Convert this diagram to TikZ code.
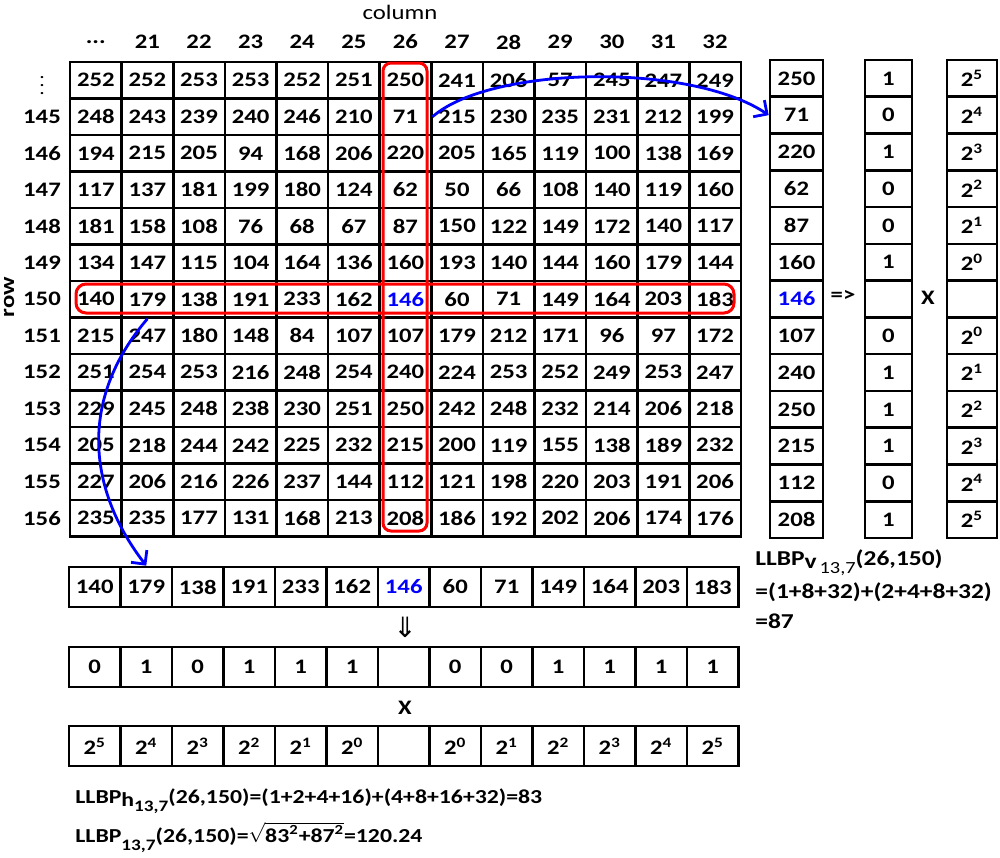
\documentclass[tikz,border=0pt]{standalone}
\usepackage{fontspec}
\setmainfont{Carlito}[FakeStretch=1.2]
\newfontfamily\djv{DejaVu Sans}
\usetikzlibrary{arrows.meta}
\newcommand\bl[1]{\textcolor{blue}{#1}}
\newcommand\pw[1]{2\textsuperscript{#1}}
\newcommand\threedots{...}
\begin{document}
\begin{tikzpicture}[x=0.5pt,y=-0.5pt,
  txt/.style={inner sep=0pt, font=\bfseries\fontsize{10.3}{12}\selectfont},
  cell/.style={txt, draw, line width=1.3pt, minimum width=25.8pt, minimum height=18.25pt},
  rcell/.style={cell, minimum width=26.5pt, minimum height=18.4pt},
  bcell/.style={cell, minimum width=23.5pt, minimum height=18.4pt},
  pcell/.style={cell, minimum width=25pt, minimum height=18.4pt},
  scell/.style={cell, minimum width=25.75pt, minimum height=20pt},
  hilite/.style={draw=red, line width=1.5pt},
  link/.style={draw=blue, line width=1.4pt, -{Straight Barb[length=5pt,width=10pt]}},
  ftxt/.style={inner sep=0pt, anchor=base west, font=\bfseries\fontsize{10.6}{12}\selectfont},
  btxt/.style={ftxt, font=\bfseries\fontsize{9.9}{12}\selectfont}]
\useasboundingbox (0,0) rectangle (1000,857);

% title labels
\node[inner sep=0pt, font=\fontsize{10.3}{12}\selectfont] (coltitle) at (400,12) {column};
\node[txt, rotate=90] (rowtitle) at (9,297) {row};

% column headers
\foreach \t [count=\c from 0] in {\threedots,21,22,23,24,25,26,27,28,29,30,31,32}
  \node[txt] (h-\c) at ({70+51.6*(\c+0.5)},42) {\t};
% row headers
\node[inner sep=0pt, font=\fontsize{9}{10}\selectfont] (rl-0) at (42,80) {$\vdots$};
\foreach \t [count=\r from 1] in {145,146,147,148,149,150,151,152,153,154,155,156}
  \node[txt] (rl-\r) at (42,{62+36.5*(\r+0.5)}) {\t};

% main grid
\foreach \v [count=\i from 0] in {
252,252,253,253,252,251,250,241,206,57,245,247,249,
248,243,239,240,246,210,71,215,230,235,231,212,199,
194,215,205,94,168,206,220,205,165,119,100,138,169,
117,137,181,199,180,124,62,50,66,108,140,119,160,
181,158,108,76,68,67,87,150,122,149,172,140,117,
134,147,115,104,164,136,160,193,140,144,160,179,144,
140,179,138,191,233,162,\bl{146},60,71,149,164,203,183,
215,247,180,148,84,107,107,179,212,171,96,97,172,
251,254,253,216,248,254,240,224,253,252,249,253,247,
229,245,248,238,230,251,250,242,248,232,214,206,218,
205,218,244,242,225,232,215,200,119,155,138,189,232,
227,206,216,226,237,144,112,121,198,220,203,191,206,
235,235,177,131,168,213,208,186,192,202,206,174,176}{
  \pgfmathtruncatemacro\r{\i/13}
  \pgfmathtruncatemacro\c{mod(\i,13)}
  \node[cell] (g-\r-\c) at ({70+51.6*(\c+0.5)},{62+36.5*(\r+0.5)}) {\v};
}

% highlight frames
\draw[hilite, rounded corners=4pt] (383,63) rectangle (427,531);
\draw[hilite, rounded corners=5pt] (76,284) rectangle (734,313);

% right columns
\foreach \v [count=\i from 0] in {250,71,220,62,87,160,\bl{146},107,240,250,215,112,208}
  \node[rcell] (rc-\i) at (796.5,{60+36.77*(\i+0.5)}) {\v};
\foreach \v [count=\i from 0] in {1,0,1,0,0,1,{},0,1,1,1,0,1}
  \node[bcell] (bc-\i) at (888.5,{60+36.77*(\i+0.5)}) {\v};
\foreach \v [count=\i from 0] in {\pw5,\pw4,\pw3,\pw2,\pw1,\pw0,{},\pw0,\pw1,\pw2,\pw3,\pw4,\pw5}
  \node[pcell] (pc-\i) at (972,{60+36.77*(\i+0.5)}) {\v};
\node[txt] (imp) at (843,296) {=>};
\node[txt] (xv) at (928,298) {X};

% bottom strips
\foreach \v [count=\i from 0] in {140,179,138,191,233,162,\bl{146},60,71,149,164,203,183}
  \node[scell] (s1-\i) at ({69+51.5*(\i+0.5)},587) {\v};
\foreach \v [count=\i from 0] in {0,1,0,1,1,1,{},0,0,1,1,1,1}
  \node[scell] (s2-\i) at ({69+51.5*(\i+0.5)},667) {\v};
\foreach \v [count=\i from 0] in {\pw5,\pw4,\pw3,\pw2,\pw1,\pw0,{},\pw0,\pw1,\pw2,\pw3,\pw4,\pw5}
  \node[scell] (s3-\i) at ({69+51.5*(\i+0.5)},746) {\v};
\node[inner sep=0pt, font=\djv\fontsize{14}{16}\selectfont] (dn) at (405,627) {⇓};
\node[txt] (xh) at (405,708) {X};

% connectors
\draw[link] (g-1-6.east) .. controls (490,66) and (690,62) .. (rc-1.west);
\draw[link] (g-6-1.south) .. controls (78,400) and (88,490) .. (s1-1.north);

% formulas
\node[ftxt] (fv1) at (755,565) {LLBP\raisebox{-1.5pt}{v}\raisebox{-4pt}{\mdseries\fontsize{8.5}{10}\selectfont\,13,7}(26,150)};
\node[ftxt] (fv2) at (755,598) {=(1+8+32)+(2+4+8+32)};
\node[ftxt] (fv3) at (755,628) {=87};
\node[btxt] (fh) at (75,803) {LLBP\raisebox{-1.5pt}{h}\raisebox{-4pt}{\fontsize{8}{10}\selectfont 13,7}(26,150)=(1+2+4+16)+(4+8+16+32)=83};
\node[btxt] (fl) at (75,842) {LLBP\raisebox{-4pt}{\fontsize{8}{10}\selectfont 13,7}(26,150)=$\sqrt{\mbox{83\textsuperscript{2}+87\textsuperscript{2}}}$=120.24};
\end{tikzpicture}
\end{document}
